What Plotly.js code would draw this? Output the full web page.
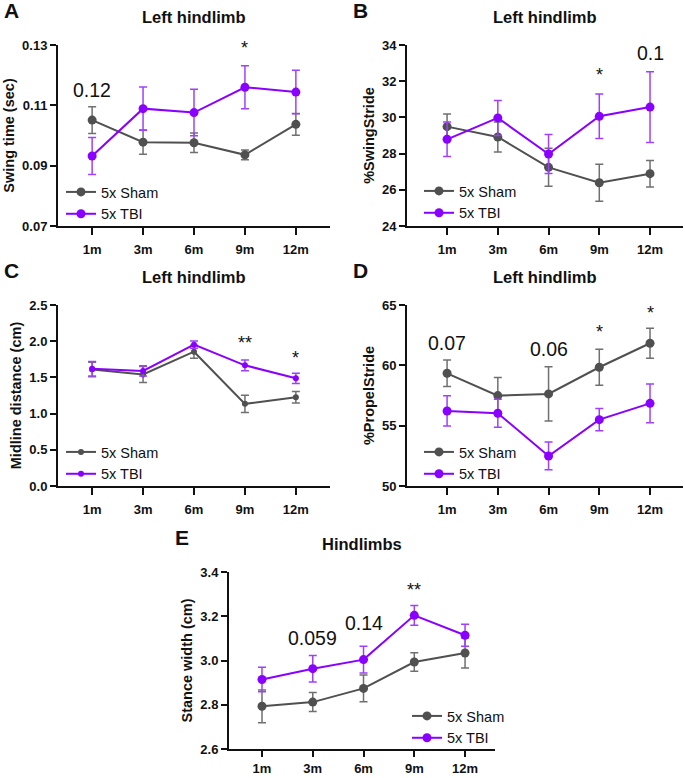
<!DOCTYPE html>
<html>
<head>
<meta charset="utf-8">
<script src="https://cdn.plot.ly/plotly-3.0.1.min.js"></script>
<style>html,body{margin:0;padding:0;background:#fff;}#chart{width:685px;height:778px;}</style>
</head>
<body>
<div id="chart"></div>
<script>
// ---------- data ----------
const months = ['1m', '3m', '6m', '9m', '12m'];
const seriesNames = ['5x Sham', '5x TBI'];

// A: Swing time (sec)
const swingSham = [0.1051, 0.0978, 0.0976, 0.0936, 0.1037];
const swingShamErr = [0.0044, 0.0040, 0.0032, 0.0016, 0.0036];
const swingTbi = [0.0932, 0.1089, 0.1076, 0.1160, 0.1144];
const swingTbiErr = [0.0061, 0.0072, 0.0077, 0.0071, 0.0072];

// B: %SwingStride
const swingStrideSham = [29.49, 28.92, 27.24, 26.39, 26.89];
const swingStrideShamErr = [0.70, 0.83, 1.05, 1.02, 0.73];
const swingStrideTbi = [28.79, 29.97, 27.98, 30.06, 30.57];
const swingStrideTbiErr = [0.95, 0.97, 1.08, 1.23, 1.95];

// C: Midline distance (cm)
const midlineSham = [1.61, 1.54, 1.855, 1.135, 1.225];
const midlineShamErr = [0.10, 0.11, 0.09, 0.12, 0.08];
const midlineTbi = [1.62, 1.59, 1.952, 1.667, 1.487];
const midlineTbiErr = [0.10, 0.07, 0.05, 0.075, 0.07];

// D: %PropelStride
const propelSham = [59.34, 57.49, 57.63, 59.84, 61.83];
const propelShamErr = [1.10, 1.50, 2.25, 1.50, 1.25];
const propelTbi = [56.22, 56.03, 52.49, 55.50, 56.85];
const propelTbiErr = [1.25, 1.16, 1.15, 0.93, 1.60];

// E: Stance width (cm)
const stanceSham = [2.793, 2.812, 2.874, 2.993, 3.034];
const stanceShamErr = [0.074, 0.043, 0.060, 0.042, 0.068];
const stanceTbi = [2.914, 2.963, 3.004, 3.204, 3.114];
const stanceTbiErr = [0.055, 0.060, 0.060, 0.045, 0.050];

// significance labels: [text, month, y]
const sigA = [['0.12', '1m', 0.1151], ['*', '9m', 0.1290]];
const sigB = [['0.1', '12m', 33.56], ['*', '9m', 32.34]];
const sigC = [['**', '9m', 1.975], ['*', '12m', 1.77]];
const sigD = [['0.07', '1m', 61.85], ['0.06', '6m', 61.35], ['*', '9m', 62.76], ['*', '12m', 64.34]];
const sigE = [['**', '9m', 3.32], ['0.059', '3m', 3.102], ['0.14', '6m', 3.169]];

// ---------- layout helpers ----------
const W = 685, H = 778;
const px = x => x / W;
const py = y => 1 - y / H;
const FONT = 'Liberation Sans, Arial, Helvetica, sans-serif';
const GRAY = '#505050', GRAY_E = '#707070';
const PURP = '#8A00FF', PURP_E = '#A040FF';

const panels = [
  {letter: 'A', title: 'Left hindlimb', ytitle: 'Swing time (sec)', x0: 58, x1: 330, y0: 45, y1: 226,
   xr: [-0.67, 4.67], yr: [0.07, 0.13], ytv: [0.07, 0.09, 0.11, 0.13], ytt: ['0.07', '0.09', '0.11', '0.13'],
   sham: swingSham, shamErr: swingShamErr, tbi: swingTbi, tbiErr: swingTbiErr, sig: sigA, msize: 9,
   leg: [61, 176], xstand: 3, xtl: 7},
  {letter: 'B', title: 'Left hindlimb', ytitle: '%SwingStride', x0: 407, x1: 683, y0: 45, y1: 226,
   xr: [-0.79, 4.65], yr: [24, 34], ytv: [24, 26, 28, 30, 32, 34], ytt: ['24', '26', '28', '30', '32', '34'],
   sham: swingStrideSham, shamErr: swingStrideShamErr, tbi: swingStrideTbi, tbiErr: swingStrideTbiErr, sig: sigB, msize: 9,
   leg: [419, 175], xstand: 3, xtl: 7},
  {letter: 'C', title: 'Left hindlimb', ytitle: 'Midline distance (cm)', x0: 58, x1: 330, y0: 305, y1: 486,
   xr: [-0.67, 4.67], yr: [0, 2.5], ytv: [0, 0.5, 1, 1.5, 2, 2.5], ytt: ['0.0', '0.5', '1.0', '1.5', '2.0', '2.5'],
   sham: midlineSham, shamErr: midlineShamErr, tbi: midlineTbi, tbiErr: midlineTbiErr, sig: sigC, msize: 6,
   leg: [61, 436], xstand: 3, xtl: 7},
  {letter: 'D', title: 'Left hindlimb', ytitle: '%PropelStride', x0: 407, x1: 683, y0: 305, y1: 486,
   xr: [-0.79, 4.65], yr: [50, 65], ytv: [50, 55, 60, 65], ytt: ['50', '55', '60', '65'],
   sham: propelSham, shamErr: propelShamErr, tbi: propelTbi, tbiErr: propelTbiErr, sig: sigD, msize: 9,
   leg: [419, 436], xstand: 3, xtl: 7},
  {letter: 'E', title: 'Hindlimbs', ytitle: 'Stance width (cm)', x0: 229, x1: 495, y0: 572, y1: 749,
   xr: [-0.65, 4.59], yr: [2.6, 3.4], ytv: [2.6, 2.8, 3.0, 3.2, 3.4], ytt: ['2.6', '2.8', '3.0', '3.2', '3.4'],
   sham: stanceSham, shamErr: stanceShamErr, tbi: stanceTbi, tbiErr: stanceTbiErr, sig: sigE, msize: 9,
   leg: [407, 700], xstand: 0, xtl: 6}
];

const data = [];
const layout = {
  width: W, height: H,
  margin: {l: 0, r: 0, t: 0, b: 0},
  paper_bgcolor: '#fff', plot_bgcolor: '#fff',
  font: {family: FONT, color: '#111'},
  annotations: [],
  showlegend: true
};

panels.forEach((p, i) => {
  const n = i + 1;
  const sfx = n === 1 ? '' : String(n);
  const xa = 'x' + sfx, ya = 'y' + sfx;
  const legName = 'legend' + sfx;

  layout['xaxis' + sfx] = {
    domain: [px(p.x0), px(p.x1)], anchor: ya,
    type: 'category', categoryorder: 'array', categoryarray: months,
    range: p.xr, showgrid: false, zeroline: false,
    showline: true, linecolor: '#111', linewidth: 2,
    ticks: 'outside', ticklen: p.xtl, tickwidth: 2, tickcolor: '#111',
    tickfont: {family: FONT, size: 13, color: '#111', weight: 'bold'},
    ticklabelstandoff: p.xstand, fixedrange: true
  };
  layout['yaxis' + sfx] = {
    domain: [py(p.y1), py(p.y0)], anchor: xa,
    range: p.yr, tickvals: p.ytv, ticktext: p.ytt,
    showgrid: false, zeroline: false,
    showline: true, linecolor: '#111', linewidth: 2,
    ticks: 'outside', ticklen: 6, tickwidth: 2, tickcolor: '#111',
    tickfont: {family: FONT, size: 13, color: '#111', weight: 'bold'},
    title: {text: p.ytitle, standoff: 4, font: {family: FONT, size: 14.5, color: '#111', weight: 'bold'}},
    fixedrange: true
  };
  layout[legName] = {
    x: px(p.leg[0]), y: py(p.leg[1]), xanchor: 'left', yanchor: 'top',
    bgcolor: 'rgba(0,0,0,0)', borderwidth: 0,
    font: {family: FONT, size: 14.5, color: '#111'},
    traceorder: 'normal', tracegroupgap: 0, itemwidth: 30
  };

  const mk = (name, y, err, col, ecol) => ({
    type: 'scatter', mode: 'lines+markers', name: name,
    x: months, y: y, xaxis: xa, yaxis: ya, legend: legName,
    line: {color: col, width: 2},
    marker: {color: col, size: p.msize},
    error_y: {type: 'data', array: err, visible: true, color: ecol, thickness: 1.5, width: 4},
    cliponaxis: false, hoverinfo: 'skip'
  });
  data.push(mk(seriesNames[0], p.sham, p.shamErr, GRAY, GRAY_E));
  data.push(mk(seriesNames[1], p.tbi, p.tbiErr, PURP, PURP_E));

  // panel title
  layout.annotations.push({
    xref: 'paper', yref: 'paper', x: px((p.x0 + p.x1) / 2), y: py(p.y0 - 28),
    xanchor: 'center', yanchor: 'middle', showarrow: false,
    text: '<b>' + p.title + '</b>', font: {family: FONT, size: 16.5, color: '#111'}
  });
  // panel letter
  layout.annotations.push({
    xref: 'paper', yref: 'paper', x: px(p.x0 - 47), y: py(p.y0 - 35),
    xanchor: 'center', yanchor: 'middle', showarrow: false,
    text: '<b>' + p.letter + '</b>', font: {family: FONT, size: 21, color: '#111'}
  });
  // significance labels
  p.sig.forEach(s => {
    const star = s[0].indexOf('*') >= 0;
    layout.annotations.push({
      xref: xa, yref: ya, x: s[1], y: s[2],
      xanchor: 'center', yanchor: 'middle', showarrow: false,
      text: s[0],
      font: {family: FONT, size: star ? 18 : 19.5, color: '#111'}
    });
  });
});

Plotly.newPlot('chart', data, layout, {staticPlot: true, displayModeBar: false});
</script>
</body>
</html>
